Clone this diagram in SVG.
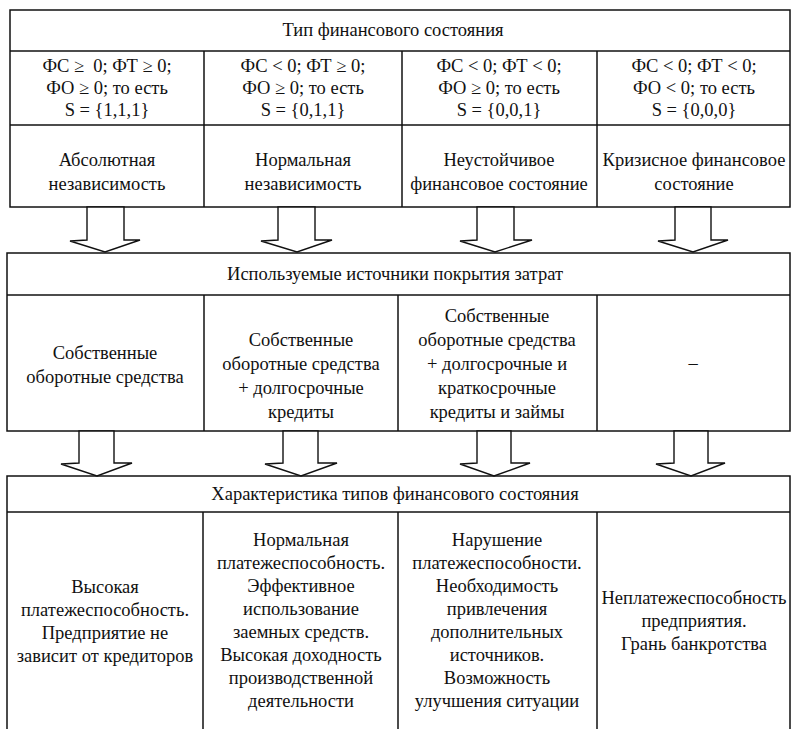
<svg xmlns="http://www.w3.org/2000/svg" width="791" height="729" viewBox="0 0 791 729">
  <style>
    .frame { fill: none; stroke: #111; stroke-width: 1.5; }
    .rule { stroke: #111; stroke-width: 1.5; }
    .arrow { fill: #fff; stroke: #111; stroke-width: 1.4; stroke-linejoin: miter; }
    text { font-family: "Liberation Serif", "Times New Roman", serif; font-size: 18.5px; fill: #111; text-anchor: middle; }
  </style>
  <rect width="791" height="729" fill="#fff"/>

  <!-- Block 1: types of financial condition -->
  <g id="table-types">
    <rect class="frame" x="10" y="10" width="780" height="197"/>
    <line class="rule" x1="10" y1="51" x2="790" y2="51"/>
    <line class="rule" x1="10" y1="125" x2="790" y2="125"/>
    <line class="rule" x1="204" y1="51" x2="204" y2="207"/>
    <line class="rule" x1="402" y1="51" x2="402" y2="207"/>
    <line class="rule" x1="597" y1="51" x2="597" y2="207"/>
  </g>
  <g id="types-header"><text x="393" y="36">Тип финансового состояния</text></g>
  <g id="cond-1">
    <text x="107" y="72" xml:space="preserve">ФС ≥  0; ФТ ≥ 0;</text>
    <text x="107" y="94">ФО ≥ 0; то есть</text>
    <text x="107" y="116">S = {1,1,1}</text>
  </g>
  <g id="cond-2">
    <text x="303" y="72">ФС &lt; 0; ФТ ≥ 0;</text>
    <text x="303" y="94">ФО ≥ 0; то есть</text>
    <text x="303" y="116">S = {0,1,1}</text>
  </g>
  <g id="cond-3">
    <text x="499" y="72">ФС &lt; 0; ФТ &lt; 0;</text>
    <text x="499" y="94">ФО ≥ 0; то есть</text>
    <text x="499" y="116">S = {0,0,1}</text>
  </g>
  <g id="cond-4">
    <text x="694" y="72">ФС &lt; 0; ФТ &lt; 0;</text>
    <text x="694" y="94">ФО &lt; 0; то есть</text>
    <text x="694" y="116">S = {0,0,0}</text>
  </g>
  <g id="type-1">
    <text x="107" y="166">Абсолютная</text>
    <text x="107" y="190">независимость</text>
  </g>
  <g id="type-2">
    <text x="303" y="166">Нормальная</text>
    <text x="303" y="190">независимость</text>
  </g>
  <g id="type-3">
    <text x="499" y="166">Неустойчивое</text>
    <text x="499" y="190">финансовое состояние</text>
  </g>
  <g id="type-4">
    <text x="694" y="166">Кризисное финансовое</text>
    <text x="694" y="190">состояние</text>
  </g>

  <!-- Block 2: sources covering costs -->
  <g id="table-sources">
    <rect class="frame" x="7" y="253" width="783" height="178"/>
    <line class="rule" x1="7" y1="295" x2="790" y2="295"/>
    <line class="rule" x1="204" y1="295" x2="204" y2="431"/>
    <line class="rule" x1="398" y1="295" x2="398" y2="431"/>
    <line class="rule" x1="597" y1="295" x2="597" y2="431"/>
  </g>
  <g id="sources-header"><text x="395" y="280">Используемые источники покрытия затрат</text></g>
  <g id="source-1">
    <text x="105" y="359">Собственные</text>
    <text x="105" y="383">оборотные средства</text>
  </g>
  <g id="source-2">
    <text x="301" y="346">Собственные</text>
    <text x="301" y="370">оборотные средства</text>
    <text x="301" y="394">+ долгосрочные</text>
    <text x="301" y="418">кредиты</text>
  </g>
  <g id="source-3">
    <text x="497" y="322">Собственные</text>
    <text x="497" y="346">оборотные средства</text>
    <text x="497" y="370">+ долгосрочные и</text>
    <text x="497" y="394">краткосрочные</text>
    <text x="497" y="418">кредиты и займы</text>
  </g>
  <g id="source-4"><text x="693" y="369">–</text></g>

  <!-- Block 3: characteristics -->
  <g id="table-traits">
    <rect class="frame" x="7" y="476" width="783" height="260"/>
    <line class="rule" x1="7" y1="512" x2="790" y2="512"/>
    <line class="rule" x1="203" y1="512" x2="203" y2="729"/>
    <line class="rule" x1="398" y1="512" x2="398" y2="729"/>
    <line class="rule" x1="597" y1="512" x2="597" y2="729"/>
  </g>
  <g id="traits-header"><text x="395" y="500">Характеристика типов финансового состояния</text></g>
  <g id="trait-1">
    <text x="105" y="593">Высокая</text>
    <text x="105" y="616">платежеспособность.</text>
    <text x="105" y="639">Предприятие не</text>
    <text x="105" y="662">зависит от кредиторов</text>
  </g>
  <g id="trait-2">
    <text x="301" y="546">Нормальная</text>
    <text x="301" y="569">платежеспособность.</text>
    <text x="301" y="592">Эффективное</text>
    <text x="301" y="615">использование</text>
    <text x="301" y="638">заемных средств.</text>
    <text x="301" y="661">Высокая доходность</text>
    <text x="301" y="684">производственной</text>
    <text x="301" y="707">деятельности</text>
  </g>
  <g id="trait-3">
    <text x="497" y="546">Нарушение</text>
    <text x="497" y="569">платежеспособности.</text>
    <text x="497" y="592">Необходимость</text>
    <text x="497" y="615">привлечения</text>
    <text x="497" y="638">дополнительных</text>
    <text x="497" y="661">источников.</text>
    <text x="497" y="684">Возможность</text>
    <text x="497" y="707">улучшения ситуации</text>
  </g>
  <g id="trait-4">
    <text x="694" y="604">Неплатежеспособность</text>
    <text x="694" y="627">предприятия.</text>
    <text x="694" y="650">Грань банкротства</text>
  </g>

  <!-- Block arrows between the tables -->
  <g id="connectors">
    <polygon class="arrow" points="87,207 87,240 70,241 105,252 140,240 124,240 124,207"/>
    <polygon class="arrow" points="278,207 278,240 261,241 297,252 332,240 315,240 315,207"/>
    <polygon class="arrow" points="477,207 477,240 460,241 495,252 532,240 514,240 514,207"/>
    <polygon class="arrow" points="675,207 675,240 658,241 693,252 728,240 711,240 711,207"/>

    <polygon class="arrow" points="79,431 79,463 61,464 97,476 132,463 114,463 114,431"/>
    <polygon class="arrow" points="283,431 283,463 265,464 301,476 337,463 318,463 318,431"/>
    <polygon class="arrow" points="477,431 477,463 460,464 494,476 530,463 511,463 511,431"/>
    <polygon class="arrow" points="674,431 674,463 656,464 691,476 725,463 708,463 708,431"/>
  </g>
</svg>
